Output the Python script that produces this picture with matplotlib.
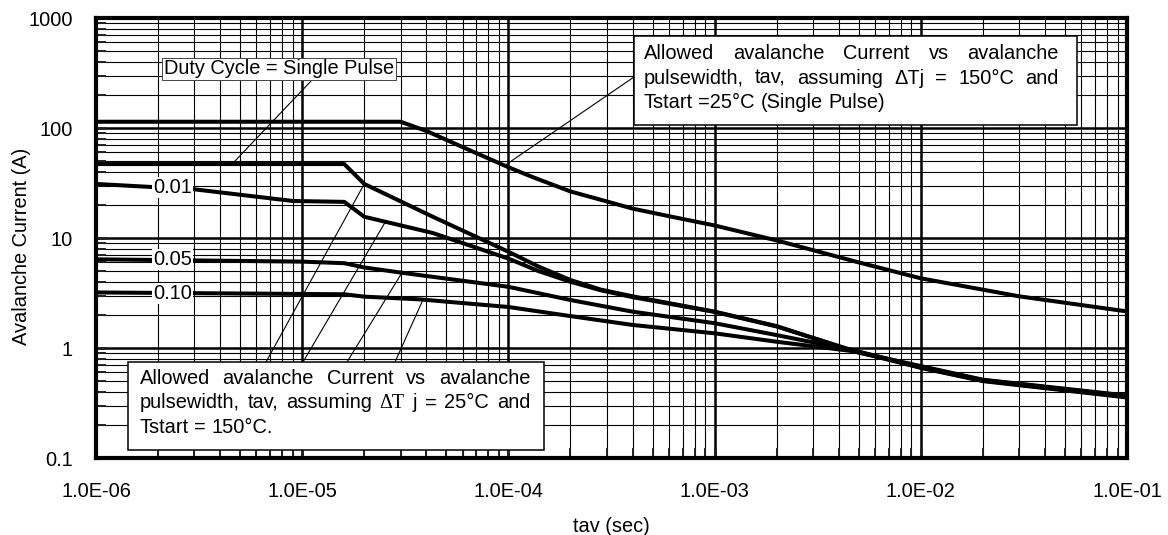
import matplotlib
matplotlib.use("Agg")
import matplotlib.pyplot as plt
from matplotlib.patches import Rectangle
from matplotlib.ticker import FixedLocator, FixedFormatter, LogLocator, NullFormatter

plt.rcParams['font.family'] = ['Liberation Sans', 'DejaVu Sans']
plt.rcParams['font.size'] = 14.4

W, H = 1168, 535  # output size in pixels (dpi 100)

# ===================== data (tav in s, current in A) =====================
# dTj = 150 C, Tstart = 25 C, single pulse
tav_150 = [1e-6, 3e-5, 4e-5, 6e-5, 1e-4, 1.3e-4, 2e-4, 3e-4, 4e-4, 6e-4, 1e-3, 2e-3, 5e-3, 1e-2, 3e-2, 1e-1]
amp_150 = [114, 114, 94, 67, 44, 36, 26.5, 21.5, 18.5, 15.8, 13.0, 9.5, 6.0, 4.3, 2.95, 2.15]

# dTj = 25 C, Tstart = 150 C, for several duty cycles
tav_single = [1e-6, 1.6e-5, 2e-5, 4.3e-5, 1e-4, 1.4e-4, 2e-4, 2.8e-4, 4e-4, 1e-3, 2e-3, 4.6e-3, 1e-2, 2e-2, 4.3e-2, 1e-1]
amp_single = [47, 47, 31, 15.6, 7.5, 5.5, 4.15, 3.4, 2.95, 2.14, 1.58, 0.95, 0.66, 0.50, 0.425, 0.355]

tav_d01 = [1e-6, 3e-6, 9e-6, 1.6e-5, 2e-5, 4.3e-5, 1e-4, 1.4e-4, 2e-4, 2.8e-4, 4e-4, 1e-3, 2e-3, 4.6e-3, 1e-2, 2e-2, 4.3e-2, 1e-1]
amp_d01 = [31, 27.7, 21.7, 21.3, 15.6, 11.1, 6.5, 5.0, 4.0, 3.35, 2.9, 2.13, 1.57, 0.96, 0.665, 0.505, 0.43, 0.36]

tav_d05 = [1e-6, 1e-5, 1.6e-5, 2e-5, 3e-5, 1e-4, 2e-4, 4e-4, 1e-3, 2e-3, 4.6e-3, 1e-2, 2e-2, 4.3e-2, 1e-1]
amp_d05 = [6.4, 6.1, 5.9, 5.4, 4.85, 3.6, 2.73, 2.14, 1.68, 1.31, 0.96, 0.675, 0.51, 0.435, 0.365]

tav_d10 = [1e-6, 1.6e-5, 2e-5, 3.7e-5, 1e-4, 2e-4, 4e-4, 1e-3, 2e-3, 4.6e-3, 1e-2, 2e-2, 4.3e-2, 1e-1]
amp_d10 = [3.2, 3.08, 2.93, 2.77, 2.36, 1.95, 1.62, 1.36, 1.14, 0.94, 0.685, 0.515, 0.44, 0.37]

duty_labels = ['0.01', '0.05', '0.10']
duty_label_tav = 1.9e-6
duty_label_amp = [28.8, 6.35, 3.12]

x_ticks = [1e-6, 1e-5, 1e-4, 1e-3, 1e-2, 1e-1]
x_ticklabels = ['1.0E-06', '1.0E-05', '1.0E-04', '1.0E-03', '1.0E-02', '1.0E-01']
y_ticks = [0.1, 1, 10, 100, 1000]
y_ticklabels = ['0.1', '1', '10', '100', '1000']

# leader targets on the curves (data coords)
single_note_target = (4.57e-6, 47)
hot_note_target = (9.67e-5, 46)
cold_note_targets = [(2.0e-5, 31), (2.53e-5, 14.0), (3.05e-5, 4.85), (3.86e-5, 2.77)]

# ===================== figure =====================
fig = plt.figure(figsize=(W / 100, H / 100), dpi=100)
ax = fig.add_axes([96 / W, 1 - 458 / H, (1127 - 96) / W, (458 - 18) / H])
ax.set_xscale('log')
ax.set_yscale('log')
ax.set_xlim(1e-6, 1e-1)
ax.set_ylim(0.1, 1000)

ax.xaxis.set_major_locator(FixedLocator(x_ticks))
ax.xaxis.set_major_formatter(FixedFormatter(x_ticklabels))
ax.yaxis.set_major_locator(FixedLocator(y_ticks))
ax.yaxis.set_major_formatter(FixedFormatter(y_ticklabels))
for axis in (ax.xaxis, ax.yaxis):
    axis.set_minor_locator(LogLocator(base=10, subs=range(2, 10), numticks=20))
    axis.set_minor_formatter(NullFormatter())

ax.grid(True, which='major', color='black', lw=1.8)
ax.grid(True, which='minor', color='black', lw=0.8)
ax.tick_params(which='both', direction='in', length=7, color='#222222')
ax.tick_params(which='major', width=2)
ax.tick_params(which='minor', width=1.4)
ax.tick_params(axis='x', which='major', pad=17)
ax.tick_params(axis='y', which='major', pad=16.5)
for sp in ax.spines.values():
    sp.set_linewidth(3)

lw = 2.9
ax.plot(tav_150, amp_150, color='black', lw=lw)
ax.plot(tav_single, amp_single, color='black', lw=lw)
ax.plot(tav_d01, amp_d01, color='black', lw=lw)
ax.plot(tav_d05, amp_d05, color='black', lw=lw)
ax.plot(tav_d10, amp_d10, color='black', lw=lw)

for lab, amp in zip(duty_labels, duty_label_amp):
    ax.text(duty_label_tav, amp, lab, ha='left', va='center', zorder=5,
            bbox=dict(boxstyle='square,pad=0.05', fc='white', ec='none'))

ax.set_xlabel('tav (sec)', va='center')
ax.xaxis.set_label_coords(0.5, (458 - 527) / 440)
ax.set_ylabel('Avalanche Current (A)', va='center')
ax.yaxis.set_label_coords(-0.0727, 0.48)

# ---- leader lines ----
line_kw = dict(arrowstyle='-', lw=0.8, color='black', shrinkA=0, shrinkB=0)
ax.annotate('', xy=single_note_target, xytext=(312, H - 80), textcoords='figure pixels',
            arrowprops=line_kw)
ax.annotate('', xy=hot_note_target, xytext=(634, H - 77), textcoords='figure pixels',
            arrowprops=line_kw)
for tgt, px in zip(cold_note_targets, [266, 303, 347, 395]):
    ax.annotate('', xy=tgt, xytext=(px, H - 362), textcoords='figure pixels',
                arrowprops=line_kw)

ax.text((279 - 96) / 1031, 1 - (69 - 18) / 440, 'Duty Cycle = Single Pulse',
        transform=ax.transAxes, ha='center', va='center', zorder=6,
        bbox=dict(boxstyle='square,pad=0.08', fc='white', ec='#444444', lw=0.7))


# ---- note boxes with justified text ----
def fxy(x, y):
    return x / W, 1 - y / H


renderer = fig.canvas.get_renderer()


def note_box(x0, y0, x1, y1, text_left, text_right, baselines, lines):
    fig.add_artist(Rectangle(fxy(x0, y1), (x1 - x0) / W, (y1 - y0) / H,
                             transform=fig.transFigure, fc='white', ec='black',
                             lw=1.1, zorder=4))
    for i, (words, base) in enumerate(zip(lines, baselines)):
        texts = []
        for w in words:
            # the delta-T in the lower note is set in a serif face
            fam = ['Liberation Serif', 'DejaVu Serif'] if w == '\u0394T' else None
            t = fig.text(0, 0, w, va='baseline', ha='left', zorder=5,
                         transform=fig.transFigure, family=fam)
            texts.append(t)
        widths = [t.get_window_extent(renderer).width for t in texts]
        if i < len(lines) - 1:
            gap = (text_right - text_left - sum(widths)) / (len(words) - 1)
        else:
            gap = 5.6  # last line keeps normal word spacing
        x = text_left
        for t, wd in zip(texts, widths):
            t.set_position(fxy(x, base))
            x += wd + gap


note_box(634, 36, 1077, 125, 643.5, 1059, [59, 83.5, 108],
         [['Allowed', 'avalanche', 'Current', 'vs', 'avalanche'],
          ['pulsewidth,', 'tav,', 'assuming', '\u0394Tj', '=', '150\u00b0C', 'and'],
          ['Tstart', '=25\u00b0C', '(Single', 'Pulse)']])

note_box(128, 362, 544, 450, 139.5, 530, [384, 408.5, 433],
         [['Allowed', 'avalanche', 'Current', 'vs', 'avalanche'],
          ['pulsewidth,', 'tav,', 'assuming', '\u0394T', 'j', '=', '25\u00b0C', 'and'],
          ['Tstart', '=', '150\u00b0C.']])

fig.savefig('out.png', dpi=100)
